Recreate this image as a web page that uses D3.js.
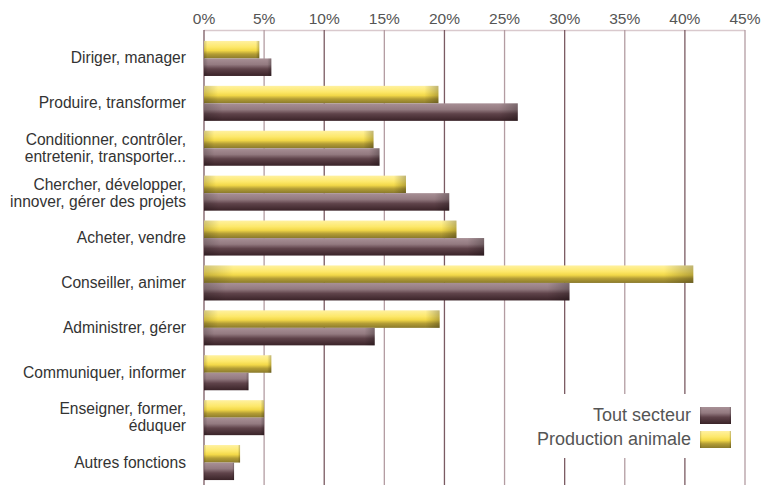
<!DOCTYPE html>
<html><head><meta charset="utf-8">
<script src="https://cdn.jsdelivr.net/npm/d3@7"></script>
<style>body{margin:0;background:#fff}svg{display:block}</style>
</head><body>
<svg id="c" width="762" height="485"></svg>
<script>
const categories = [
  ["Diriger, manager"],
  ["Produire, transformer"],
  ["Conditionner, contrôler,", "entretenir, transporter..."],
  ["Chercher, développer,", "innover, gérer des projets"],
  ["Acheter, vendre"],
  ["Conseiller, animer"],
  ["Administrer, gérer"],
  ["Communiquer, informer"],
  ["Enseigner, former,", "éduquer"],
  ["Autres fonctions"]
];
const toutSecteur = [5.6, 26.1, 14.6, 20.4, 23.3, 30.4, 14.2, 3.7, 5.0, 2.5];
const productionAnimale = [4.6, 19.5, 14.1, 16.8, 21.0, 40.7, 19.6, 5.6, 5.0, 3.0];
const tickValues = [0, 5, 10, 15, 20, 25, 30, 35, 40, 45];
const seriesNames = ["Tout secteur", "Production animale"];

const svg = d3.select("#c");
const font = "'Liberation Sans', Arial, sans-serif";
const x = d3.scaleLinear().domain([0, 45]).range([204, 745]);
const y = d3.scaleBand().domain(d3.range(categories.length)).range([36, 485]).paddingInner(0.22).paddingOuter(0.11);

const defs = svg.append("defs");
function grad(id, stops, x2, y2) {
  const g = defs.append("linearGradient").attr("id", id).attr("x1", 0).attr("y1", 0).attr("x2", x2).attr("y2", y2);
  stops.forEach(s => g.append("stop").attr("offset", s[0]).attr("stop-color", s[1]).attr("stop-opacity", s[2] === undefined ? 1 : s[2]));
}
grad("gy", [[0, "#fff1a0"], [0.35, "#fde86a"], [0.55, "#f2d848"], [0.75, "#b39d35"], [1, "#8a7a2c"]], 0, 1);
grad("gb", [[0, "#a89096"], [0.35, "#937a80"], [0.6, "#5f434a"], [1, "#3a2328"]], 0, 1);
grad("ge", [[0, "#000", 0.18], [0.06, "#000", 0], [0.94, "#000", 0], [1, "#000", 0.25]], 1, 0);

// axis top line
svg.append("line").attr("x1", 204).attr("x2", 745).attr("y1", 30.5).attr("y2", 30.5)
  .attr("stroke", "#d9c9cd").attr("stroke-width", 1.5);

// gridlines
svg.append("g").selectAll("line").data(tickValues).join("line")
  .attr("x1", d => x(d)).attr("x2", d => x(d)).attr("y1", 30).attr("y2", 485)
  .attr("stroke", (d, i) => i % 2 ? "#b39ca2" : "#7a5a62").attr("stroke-width", 1.3);

// tick labels
svg.append("g").selectAll("text").data(tickValues).join("text")
  .attr("x", d => x(d)).attr("y", 24).attr("text-anchor", "middle")
  .attr("font-family", font).attr("font-size", 15.5).attr("fill", "#555")
  .text(d => d + "%");

// bars
const bh = y.bandwidth() / 2;
const rows = svg.append("g").selectAll("g").data(categories).join("g");
rows.each(function (c, i) {
  const g = d3.select(this);
  const top = y(i);
  [[productionAnimale[i], top, "url(#gy)"], [toutSecteur[i], top + bh, "url(#gb)"]].forEach(([v, yy, f]) => {
    g.append("rect").attr("x", x(0)).attr("y", yy).attr("width", x(v) - x(0)).attr("height", bh).attr("fill", f);
    g.append("rect").attr("x", x(0)).attr("y", yy).attr("width", x(v) - x(0)).attr("height", bh).attr("fill", "url(#ge)");
  });
  const t = g.append("text").attr("text-anchor", "end").attr("font-family", font)
    .attr("font-size", 15.6).attr("fill", "#333");
  const cy = top + bh;
  const n = c.length;
  c.forEach((line, k) => {
    t.append("tspan").attr("x", 186).attr("y", cy + 5 + (k - (n - 1) / 2) * 17).text(line);
  });
});

// legend
const lg = svg.append("g");
lg.append("rect").attr("x", 530).attr("y", 394).attr("width", 210).attr("height", 64).attr("fill", "#fff");
const lgFills = ["url(#gb)", "url(#gy)"];
seriesNames.forEach((s, i) => {
  const yy = 407 + i * 24;
  lg.append("rect").attr("x", 700).attr("y", yy).attr("width", 31).attr("height", 17).attr("fill", lgFills[i]);
  lg.append("rect").attr("x", 700).attr("y", yy).attr("width", 31).attr("height", 17).attr("fill", "url(#ge)");
  lg.append("text").attr("x", 691).attr("y", yy + 14).attr("text-anchor", "end")
    .attr("font-family", font).attr("font-size", 18).attr("fill", "#555").text(s);
});
</script>
</body></html>
